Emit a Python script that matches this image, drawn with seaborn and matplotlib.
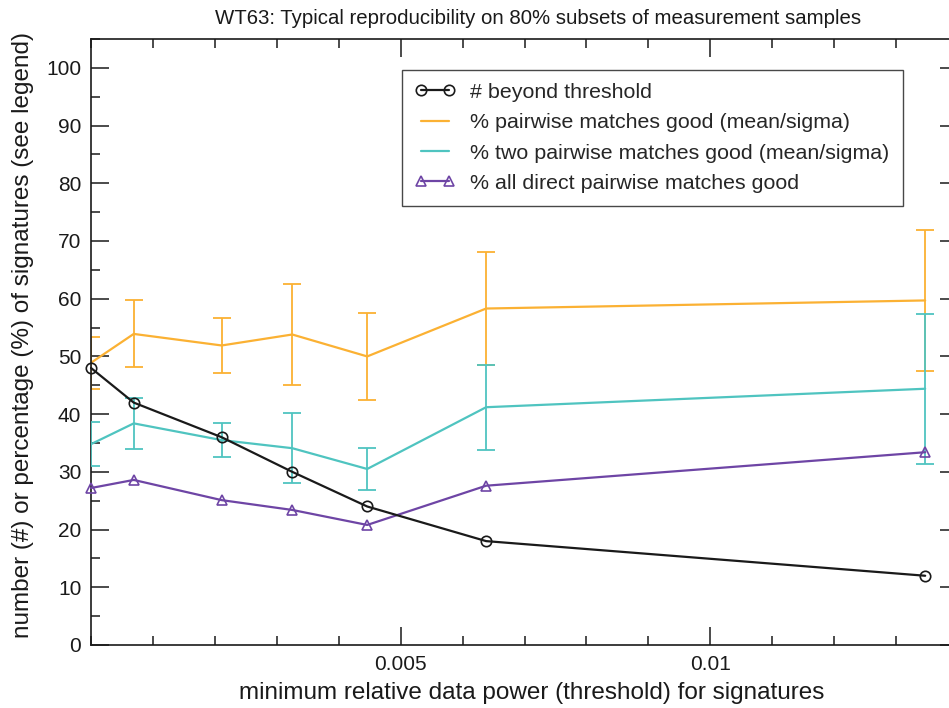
import matplotlib
matplotlib.use("Agg")
import matplotlib.pyplot as plt
from matplotlib.ticker import MultipleLocator, FixedLocator
import pandas as pd
import seaborn as sns

# Threshold values (minimum relative data power) and the measured series
thresholds = [0.0, 0.00069, 0.00211, 0.00325, 0.00446, 0.00638, 0.01347]
n_beyond = [48, 42, 36, 30, 24, 18, 12]
pair_mean = [48.9, 53.9, 51.9, 53.8, 50.0, 58.3, 59.7]
pair_sigma = [4.5, 5.8, 4.8, 8.8, 7.5, 9.8, 12.2]
two_mean = [34.8, 38.4, 35.5, 34.1, 30.5, 41.2, 44.4]
two_sigma = [3.8, 4.4, 2.9, 6.1, 3.7, 7.4, 13.0]
all_direct = [27.2, 28.6, 25.1, 23.4, 20.8, 27.6, 33.4]

labels = [
    "# beyond threshold",
    "% pairwise matches good (mean/sigma)",
    "% two pairwise matches good (mean/sigma)",
    "% all direct pairwise matches good",
]
x_ticks = [0.005, 0.01]
x_tick_labels = ["0.005", "0.01"]

df = pd.DataFrame({
    "thr": thresholds,
    "beyond": n_beyond,
    "pair": pair_mean,
    "pair_sd": pair_sigma,
    "two": two_mean,
    "two_sd": two_sigma,
    "direct": all_direct,
})

sns.set_style("ticks")
plt.rcParams["font.family"] = ["Liberation Sans", "DejaVu Sans"]

BLACK = "#1a1a1a"
ORANGE = "#FBB133"
CYAN = "#4FC4C0"
PURPLE = "#6E45A5"

W, H = 949, 708
fig = plt.figure(figsize=(W / 100, H / 100), dpi=100)
# plot frame runs slightly past the right edge of the canvas
ax_l, ax_r, ax_t, ax_b = 91, 958, 39, 645
ax_w, ax_h = ax_r - ax_l, ax_b - ax_t
ax = fig.add_axes([ax_l / W, 1 - ax_b / H, ax_w / W, ax_h / H])

lw = 1.6

# error bars for the two mean/sigma series
ax.errorbar(df["thr"], df["pair"], yerr=df["pair_sd"], fmt="none",
            ecolor=ORANGE, elinewidth=1.3, capsize=6.2, capthick=1.3, zorder=2)
ax.errorbar(df["thr"], df["two"], yerr=df["two_sd"], fmt="none",
            ecolor=CYAN, elinewidth=1.3, capsize=6.2, capthick=1.3, zorder=3)

sns.lineplot(data=df, x="thr", y="pair", ax=ax, color=ORANGE, lw=lw,
             sort=False, errorbar=None, label=labels[1], zorder=2)
sns.lineplot(data=df, x="thr", y="two", ax=ax, color=CYAN, lw=lw,
             sort=False, errorbar=None, label=labels[2], zorder=3)
sns.lineplot(data=df, x="thr", y="direct", ax=ax, color=PURPLE, lw=lw,
             sort=False, errorbar=None, label=labels[3], marker="^",
             markersize=7, markerfacecolor="none", markeredgecolor=PURPLE,
             markeredgewidth=1.2, clip_on=False, zorder=4)
sns.lineplot(data=df, x="thr", y="beyond", ax=ax, color=BLACK, lw=lw,
             sort=False, errorbar=None, label=labels[0], marker="o",
             markersize=7.5, markerfacecolor="none", markeredgecolor=BLACK,
             markeredgewidth=1.2, clip_on=False, zorder=5)

ax.set_xlim(0, 0.014)
ax.set_ylim(0, 105)

ax.xaxis.set_major_locator(FixedLocator(x_ticks))
ax.set_xticklabels(x_tick_labels)
ax.xaxis.set_minor_locator(MultipleLocator(0.001))
ax.yaxis.set_major_locator(MultipleLocator(10))
ax.yaxis.set_minor_locator(MultipleLocator(5))

ax.tick_params(which="both", direction="in", top=True, right=True,
               color=BLACK, width=1.1, labelsize=15, labelcolor=BLACK)
ax.tick_params(which="major", length=13, pad=7)
ax.tick_params(which="minor", length=6.5)
for s in ax.spines.values():
    s.set_visible(True)
    s.set_color(BLACK)
    s.set_linewidth(1.2)

ax.set_xlabel("minimum relative data power (threshold) for signatures",
              fontsize=17.5, color=BLACK)
ax.xaxis.set_label_coords((532 - ax_l) / ax_w, -(682 - ax_b) / ax_h)
ax.set_ylabel("number (#) or percentage (%) of signatures (see legend)",
              fontsize=17.5, color=BLACK)
ax.yaxis.set_label_coords(-(ax_l - 34) / ax_w, (ax_b - 335) / ax_h)
ax.set_title("WT63: Typical reproducibility on 80% subsets of measurement samples",
             fontsize=14.7, color=BLACK, pad=11,
             x=(538 - ax_l) / ax_w)

handles, hl = ax.get_legend_handles_labels()
order = [hl.index(l) for l in labels]
leg = ax.legend([handles[i] for i in order], [hl[i] for i in order],
                loc="upper left",
                bbox_to_anchor=((402 - ax_l) / ax_w, (ax_b - 70) / ax_h),
                borderaxespad=0, fontsize=15.4, numpoints=2,
                handlelength=1.9, handletextpad=0.7, labelspacing=0.53,
                frameon=True, fancybox=False, edgecolor=BLACK,
                borderpad=0.6)
leg.get_frame().set_linewidth(1.0)

fig.savefig("out.png", dpi=100)
